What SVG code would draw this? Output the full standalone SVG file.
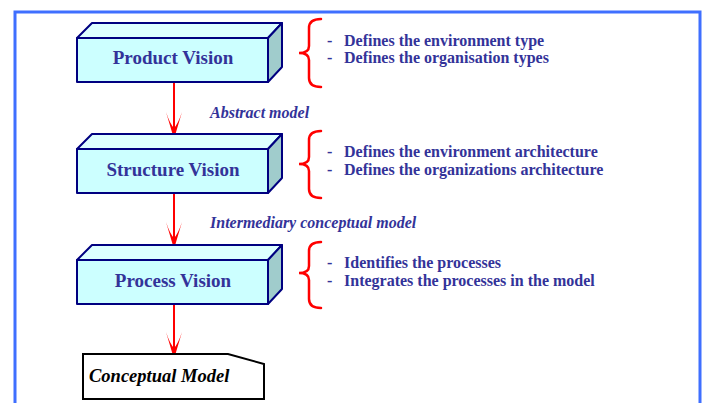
<svg xmlns="http://www.w3.org/2000/svg" width="705" height="403" viewBox="0 0 705 403">
<defs>
<style>
.front{fill:#CCFFFF;stroke:#000080;stroke-width:2;stroke-linejoin:round}
.top{fill:#DDFFFF;stroke:#000080;stroke-width:2;stroke-linejoin:round}
.side{fill:#A0CCCC;stroke:#000080;stroke-width:2;stroke-linejoin:round}
.lbl{font-family:"Liberation Serif",serif;font-weight:bold;font-size:19px;fill:#333399;text-anchor:middle}
.item{font-family:"Liberation Serif",serif;font-weight:bold;font-size:16px;fill:#333399}
.edge{font-family:"Liberation Serif",serif;font-weight:bold;font-style:italic;font-size:16px;fill:#333399}
.brace{fill:none;stroke:#FF0000;stroke-width:2.5;stroke-linecap:round}
.conn{stroke:#FF0000;stroke-width:2;fill:none}
.head{fill:#FF0000}
</style>
</defs>
<rect x="0" y="0" width="705" height="403" fill="#FFFFFF"/>
<path d="M15,405 V12 H700 V405" fill="none" stroke="#3F6FFF" stroke-width="3"/>

<g id="connectors">
<line class="conn" x1="174" y1="82" x2="174" y2="132"/>
<path class="head" d="M174,139 L166,112 Q170,124 174,128 Q178,124 182,112 Z"/>
<line class="conn" x1="174" y1="193" x2="174" y2="242"/>
<path class="head" d="M174,249 L166,222 Q170,234 174,238 Q178,234 182,222 Z"/>
<line class="conn" x1="174" y1="304" x2="174" y2="352"/>
<path class="head" d="M174,359 L166,332 Q170,344 174,348 Q178,344 182,332 Z"/>
<text class="edge" x="210" y="118">Abstract model</text>
<text class="edge" x="210" y="228">Intermediary conceptual model</text>
</g>

<g id="product-vision">
<polygon class="top" points="77,38 92,23 282,23 268,38"/>
<polygon class="side" points="268,38 282,23 282,67 268,82"/>
<rect class="front" x="77" y="38" width="191" height="44"/>
<text class="lbl" x="173" y="64">Product Vision</text>
</g>

<g id="product-notes">
<path class="brace" d="M321,19 Q309,19 309,28 L309,46 Q309,53 299,53 Q309,53 309,60 L309,78 Q309,87 321,87"/>
<text class="item" x="327" y="46">-</text>
<text class="item" x="344" y="46">Defines the environment type</text>
<text class="item" x="327" y="63">-</text>
<text class="item" x="344" y="63">Defines the organisation types</text>
</g>

<g id="structure-vision">
<polygon class="top" points="77,149 92,134 282,134 268,149"/>
<polygon class="side" points="268,149 282,134 282,178 268,193"/>
<rect class="front" x="77" y="149" width="191" height="44"/>
<text class="lbl" x="173" y="176">Structure Vision</text>
</g>

<g id="structure-notes">
<path class="brace" d="M321,131 Q309,131 309,140 L309,157 Q309,164 299,164 Q309,164 309,171 L309,189 Q309,198 321,198"/>
<text class="item" x="327" y="157">-</text>
<text class="item" x="344" y="157">Defines the environment architecture</text>
<text class="item" x="327" y="175">-</text>
<text class="item" x="344" y="175">Defines the organizations architecture</text>
</g>

<g id="process-vision">
<polygon class="top" points="77,260 92,245 282,245 268,260"/>
<polygon class="side" points="268,260 282,245 282,289 268,304"/>
<rect class="front" x="77" y="260" width="191" height="44"/>
<text class="lbl" x="173" y="287">Process Vision</text>
</g>

<g id="process-notes">
<path class="brace" d="M321,242 Q309,242 309,251 L309,266 Q309,273 299,273 Q309,273 309,280 L309,299 Q309,308 321,308"/>
<text class="item" x="327" y="268">-</text>
<text class="item" x="344" y="268">Identifies the processes</text>
<text class="item" x="327" y="286">-</text>
<text class="item" x="344" y="286">Integrates the processes in the model</text>
</g>

<g id="conceptual-model">
<polygon points="83,354 228,354 264,364 264,399 83,399" fill="#FFFFFF" stroke="#000000" stroke-width="2"/>
<text x="89" y="382" font-family="Liberation Serif,serif" font-weight="bold" font-style="italic" font-size="18.5" fill="#000000">Conceptual Model</text>
</g>
</svg>
